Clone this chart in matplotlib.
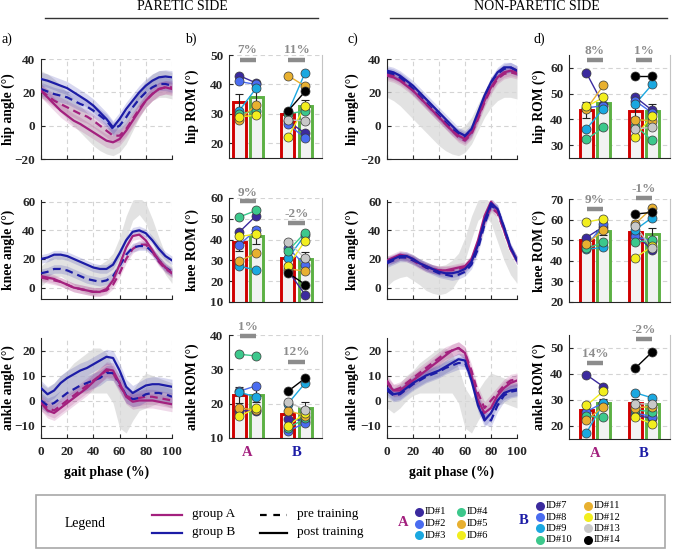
import numpy as np
import matplotlib
matplotlib.use('Agg')
import matplotlib.pyplot as plt
from matplotlib.patches import Rectangle

plt.rcParams['font.family'] = ['Liberation Serif', 'DejaVu Serif']

# ---------------- DATA ----------------
phase = [0, 5, 10, 15, 20, 25, 30, 35, 40, 45, 50, 55, 60, 65, 70, 75, 80, 85, 90, 95, 100]

# normative reference (gray band)
hip_norm_mean = [25, 23, 20, 16, 12, 8, 4, 0, -4, -7, -9, -10, -8, -3, 5, 13, 19, 23, 25, 25, 24]
hip_norm_sd = [8, 8, 8, 8, 8, 8, 8, 8, 8, 8, 8, 8, 8, 8, 8, 8, 8, 8, 8, 8, 8]
knee_norm_mean = [8, 12, 15, 16, 14, 11, 8, 6, 5, 6, 9, 15, 27, 42, 54, 57, 52, 40, 27, 16, 9]
knee_norm_sd = [7, 7, 8, 8, 9, 9, 10, 10, 10, 10, 10, 9, 8, 8, 7, 6, 7, 8, 8, 7, 6]
ank_norm_mean = [2, 0, 2, 5, 7, 9, 10, 11, 12, 12, 11, 6, -3, -6, -2, 2, 4, 4, 4, 3, 2]
ank_norm_sd = [5, 5, 5, 5, 5, 6, 7, 8, 9, 9, 8, 7, 8, 7, 6, 6, 7, 6, 5, 5, 5]

# paretic side joint angles
hipP_A_pre = [21, 18, 15, 13, 11, 9, 7, 5.5, 3, 0, -3, -6, -6, -2, 4, 10, 15, 19, 22, 23, 23]
hipP_A_post = [21, 17, 13, 9, 6, 3, 1, -1.5, -4, -6.5, -9, -10, -8, -3, 3, 9, 15, 19, 22, 23, 22]
hipP_B_pre = [22, 20.5, 19, 18, 17, 15, 13, 11.5, 9, 6, 3, -2, 0, 5, 11, 16, 20, 23, 25, 25, 24]
hipP_B_post = [28, 27, 25.5, 24, 22.5, 20, 17.5, 15, 12, 8, 4, -1, 4, 10, 15, 20, 24, 27, 29, 29.5, 29]
kneeP_A_pre = [7, 6, 5, 4, 2, 0, -1, -2, -3, -3, -2, 2, 10, 20, 27, 30, 30, 25, 18, 13, 10]
kneeP_A_post = [8, 7, 6, 4, 2, 0, -1, -2, -3, -3, -1, 5, 16, 28, 36, 37, 33, 26, 19, 14, 10]
kneeP_B_pre = [10, 11, 13, 13, 12, 10, 8, 6, 5, 4, 5, 8, 15, 23, 28, 29, 29, 25, 19, 14, 11]
kneeP_B_post = [20, 21, 23, 23, 22, 20, 18, 16, 14, 13, 13, 16, 24, 33, 39, 40, 38, 33, 27, 22, 19]
ankP_A_pre = [-1, -3, -4, -2, 0, 2, 4, 6, 8, 10, 12, 11, 6, 2, 0.5, 1, 1.5, 1.5, 1, 0.5, 0]
ankP_A_post = [-1, -4, -5, -3, -1, 1, 3, 5, 7.5, 10, 12.5, 12, 7, 1.5, -0.5, 0, 0, 0, -0.5, -1, -1.5]
ankP_B_pre = [0, -2, -1, 1, 3, 4.5, 6, 7, 8, 9, 11, 11, 7, 2, 0.5, 1, 2.5, 3, 3, 2.5, 1.5]
ankP_B_post = [5, 2.5, 4, 7, 9, 10.5, 12, 13, 14.5, 16, 17.5, 17, 12, 5.5, 3, 4.5, 6, 6.5, 6.5, 6, 5.5]

# non-paretic side joint angles
hipN_A_pre = [31, 30, 28, 25, 21, 17, 13, 9, 5, 1, -3, -7, -9, -5, 4, 14, 22, 28, 31, 32, 31]
hipN_A_post = [30, 29, 27, 24, 21, 17, 13, 9, 5, 1, -3, -6, -8, -4, 5, 15, 23, 29, 32, 33, 32]
hipN_B_pre = [32, 31, 29, 26, 22, 18, 14, 10, 6, 2, -2, -5, -7, -3, 6, 17, 26, 31, 34, 35, 33]
hipN_B_post = [33, 32, 30, 27, 24, 20, 16, 12, 8, 4, 0, -4, -6, -2, 8, 18, 26, 32, 35, 35, 33]
kneeN_A_pre = [19, 20, 22, 21, 19, 16, 14, 13, 12, 12, 12, 13, 14, 19, 30, 46, 56, 52, 40, 27, 19]
kneeN_A_post = [19, 21, 23, 22, 20, 17, 15, 13, 12, 12, 13, 14, 15, 20, 33, 50, 60, 54, 40, 27, 19]
kneeN_B_pre = [17, 19, 21, 21, 19, 17, 14, 12, 10, 9, 8, 9, 11, 16, 27, 44, 57, 55, 42, 28, 19]
kneeN_B_post = [18, 20, 22, 22, 20, 17, 15, 13, 11, 10, 10, 11, 13, 18, 30, 47, 59, 55, 42, 28, 19]
ankN_A_pre = [8, 4, 5, 7, 9, 11, 13, 15, 17, 19, 20, 21, 19, 12, 3, -3, 0, 3, 6, 8, 8.5]
ankN_A_post = [7, 4, 4, 6, 8, 10, 12, 14, 16, 18, 20, 21, 19, 10, 0, -5, -3, 2, 5, 7, 8]
ankN_B_pre = [4, 2, 2.5, 4.5, 6.5, 8, 9.5, 10.5, 11.5, 13, 14, 15, 15, 9, 0, -7, -8, -2, 2, 3.5, 4]
ankN_B_post = [5, 2.5, 3, 5, 7, 8.5, 10, 11, 12, 13.5, 15, 16.5, 16, 8, -2, -8, -5, 0, 3, 4, 4.5]

band_P = [4, 3, 3]      # hip, knee, ankle half-width of group bands
band_N = [3, 3, 2.5]

# individual ROM values, ID#1..ID#14 (1-6 group A, 7-14 group B)
ids = ['ID#1', 'ID#2', 'ID#3', 'ID#4', 'ID#5', 'ID#6', 'ID#7', 'ID#8', 'ID#9', 'ID#10',
       'ID#11', 'ID#12', 'ID#13', 'ID#14']
romP_hip_pre = [43, 41, 31, 30, 28, 29, 27.5, 26.5, 30.5, 30, 43, 22, 28, 31]
romP_hip_post = [40.5, 40, 38.7, 31, 33, 29.5, 23.4, 21.8, 44, 31, 39.4, 32.6, 27.6, 37.6]
romP_knee_pre = [43.5, 37.4, 27.3, 50.8, 29.7, 41.5, 25, 36, 31, 34.5, 26, 27.3, 39, 24]
romP_knee_post = [51.5, 44.7, 25.3, 54, 33.4, 42.6, 13.5, 27.7, 42.3, 43.4, 24.8, 39.4, 31, 18.4]
romP_ank_pre = [18, 23.6, 23.4, 34.4, 18.7, 16.3, 15.6, 12, 20, 12.9, 18, 13.6, 20.4, 23.6]
romP_ank_post = [17.8, 25.2, 21.9, 33.9, 18.2, 18.7, 15, 14.4, 26, 15.7, 16.5, 17.3, 18.3, 27.4]
romN_hip_pre = [58, 44.5, 36.3, 32.2, 44, 45, 48.7, 47.2, 45.9, 37.5, 39.9, 33.3, 36.3, 56.8]
romN_hip_post = [45.5, 45.3, 44.2, 36.9, 53.2, 48.5, 43.5, 42.5, 53.6, 31.8, 39.5, 41.4, 36.9, 56.8]
romN_knee_pre = [51.3, 47, 45.6, 46, 48, 58.8, 53, 52, 55, 49, 58, 41.5, 57, 62.7]
romN_knee_post = [56.6, 57.8, 46.5, 49, 55, 60.4, 45.2, 49.5, 61, 50.1, 65.6, 47, 46, 63.5]
romN_ank_pre = [39.7, 25.5, 17.4, 23.8, 22.2, 27.9, 24.2, 25, 32.8, 26.2, 27, 23.3, 28.6, 42.2]
romN_ank_post = [35.1, 29, 28.8, 23.3, 27.5, 33.4, 22.9, 23.6, 30.8, 25.5, 27.5, 20.9, 28.4, 48.5]

# bar means and standard errors: [A pre, A post, B pre, B post]
barP_hip = [33.9, 35.6, 30.0, 32.6]
seP_hip = [2.8, 2.5, 1.5, 2.2]
barP_knee = [38.7, 41.9, 31.0, 30.5]
seP_knee = [4.0, 4.0, 2.5, 3.4]
barP_ank = [22.6, 22.6, 17.0, 18.8]
seP_ank = [2.4, 2.0, 1.2, 1.6]
barN_hip = [43.6, 46.2, 43.3, 43.3]
seN_hip = [3.0, 2.0, 2.5, 2.6]
barN_knee = [50.0, 54.5, 53.9, 53.1]
seN_knee = [1.5, 2.0, 2.0, 3.0]
barN_ank = [26.3, 28.9, 28.8, 28.4]
seN_ank = [2.0, 1.5, 1.5, 1.5]

# percent change labels [A, B]
pctP_hip = ['7%', '11%']
pctP_knee = ['9%', '-2%']
pctP_ank = ['1%', '12%']
pctN_hip = ['8%', '1%']
pctN_knee = ['9%', '-1%']
pctN_ank = ['14%', '-2%']

# ---------------- STYLE ----------------
COL_A = '#a3207e'
COL_B = '#1c1ca6'
id_colors = ['#3b2a9e', '#4a6cf0', '#1ba8e0', '#3cc88c', '#e8b030', '#f2ee1e',
             '#3b2a9e', '#4a6cf0', '#1ba8e0', '#3cc88c', '#e8b030', '#f2ee1e',
             '#c8c8c8', '#000000']
PRE_EDGE = '#d00000'
POST_EDGE = '#5cb043'
PCT_COL = '#8c8c8c'
DARK = '#262626'

W, H = 685, 551
fig = plt.figure(figsize=(W / 100, H / 100), dpi=100)


def ax_px(l, t, r, b):
    return fig.add_axes([l / W, 1 - b / H, (r - l) / W, (b - t) / H])


def style(ax, xgrid=True, right=False):
    ax.spines['top'].set_visible(False)
    ax.spines['right'].set_visible(right)
    if right:
        ax.spines['right'].set_color('#c4c4c4')
        ax.spines['right'].set_linewidth(0.8)
    for s in ['left', 'bottom']:
        ax.spines[s].set_color(DARK)
        ax.spines[s].set_linewidth(0.8)
    ax.tick_params(direction='in', length=3, width=0.8, colors=DARK, labelsize=9.5)
    ax.tick_params(axis='y', pad=4)
    ax.tick_params(axis='x', pad=6)
    ax.grid(True, axis='both' if xgrid else 'y', color='#d4d4d4',
            linestyle=(0, (4, 3)), linewidth=0.8)
    ax.set_axisbelow(True)


def line_panel(ax, nm, ns, curves, band, ylim, yticks, ylabel, lab_x, show_x):
    ph = np.array(phase)
    nm = np.array(nm)
    ns = np.array(ns)
    ax.fill_between(ph, nm - ns, nm + ns, color='#d9d9d9', alpha=0.75, lw=0, zorder=1)
    cols = [COL_A, COL_A, COL_B, COL_B]
    for c, col in zip(curves, cols):
        c = np.array(c)
        ax.fill_between(ph, c - band, c + band, color=col, alpha=0.17, lw=0, zorder=2)
    for i, (c, col) in enumerate(zip(curves, cols)):
        if i % 2 == 0:
            ax.plot(ph, c, color=col, lw=1.6, linestyle=(0, (3.5, 2.2)), zorder=3)
        else:
            ax.plot(ph, c, color=col, lw=1.6, zorder=4)
    ax.set_xlim(0, 100)
    ax.set_ylim(*ylim)
    ax.set_xticks([0, 20, 40, 60, 80, 100])
    ax.set_yticks(yticks)
    style(ax)
    if not show_x:
        ax.set_xticklabels([])
    else:
        ax.set_xlabel('gait phase (%)', fontsize=9.8, fontweight='bold', labelpad=5)
    ax.set_ylabel(ylabel, fontsize=9.8, fontweight='bold')
    ax.yaxis.set_label_coords(lab_x, 0.5)
    plt.setp(ax.get_xticklabels() + ax.get_yticklabels(), fontweight='bold')


def bar_panel(ax, means, ses, pre, post, pct, pct_txt_y, pct_line_y, ylim, yticks,
              ylabel, xlim, lab_x, show_x):
    d = 0.175
    xs = [1 - d, 1 + d, 2 - d, 2 + d]
    ax.bar(xs, means, width=0.265, color='#f2f2f2',
           edgecolor=[PRE_EDGE, POST_EDGE, PRE_EDGE, POST_EDGE], linewidth=2.1, zorder=2)
    ax.errorbar(xs, means, yerr=ses, fmt='none', ecolor='#222222', elinewidth=0.8,
                capsize=3, capthick=0.8, zorder=3)
    for i in range(14):
        if i < 6:
            x0, x1 = xs[0], xs[1]
        else:
            x0, x1 = xs[2], xs[3]
        ax.plot([x0, x1], [pre[i], post[i]], color=id_colors[i], lw=1.0, zorder=4)
    for i in range(14):
        if i < 6:
            x0, x1 = xs[0], xs[1]
        else:
            x0, x1 = xs[2], xs[3]
        ax.plot([x0, x1], [pre[i], post[i]], linestyle='none', marker='o', ms=6.5,
                mfc=id_colors[i], mec='#3a3a3a', mew=0.5, zorder=5 + i * 0.01)
    for g in range(2):
        c = 1 + g
        ax.plot([c - 0.165, c + 0.165], [pct_line_y[g], pct_line_y[g]], color=PCT_COL,
                lw=3.2, solid_capstyle='butt', clip_on=False, zorder=6)
        ax.text(c, pct_txt_y[g], pct[g], color=PCT_COL, fontsize=9.5, fontweight='bold',
                ha='center', va='center', clip_on=False)
    ax.set_xlim(*xlim)
    ax.set_ylim(*ylim)
    ax.set_yticks(yticks)
    ax.set_xticks([1, 2])
    style(ax, xgrid=False, right=True)
    ax.tick_params(axis='x', length=0)
    if show_x:
        ax.set_xticklabels(['A', 'B'], fontsize=10.5)
        ax.get_xticklabels()[0].set_color(COL_A)
        ax.get_xticklabels()[1].set_color(COL_B)
    else:
        ax.set_xticklabels([])
    ax.set_ylabel(ylabel, fontsize=9.8, fontweight='bold')
    ax.yaxis.set_label_coords(lab_x, 0.5)
    plt.setp(ax.get_xticklabels() + ax.get_yticklabels(), fontweight='bold')


rows_line = [(59, 159), (200, 299), (338, 438)]
hip_ylim, knee_ylim, ank_ylim = (-20, 40), (-8, 61.2), (-15, 25)

norms = [(hip_norm_mean, hip_norm_sd), (knee_norm_mean, knee_norm_sd), (ank_norm_mean, ank_norm_sd)]
curvesP = [[hipP_A_pre, hipP_A_post, hipP_B_pre, hipP_B_post],
           [kneeP_A_pre, kneeP_A_post, kneeP_B_pre, kneeP_B_post],
           [ankP_A_pre, ankP_A_post, ankP_B_pre, ankP_B_post]]
curvesN = [[hipN_A_pre, hipN_A_post, hipN_B_pre, hipN_B_post],
           [kneeN_A_pre, kneeN_A_post, kneeN_B_pre, kneeN_B_post],
           [ankN_A_pre, ankN_A_post, ankN_B_pre, ankN_B_post]]
ylims = [hip_ylim, knee_ylim, ank_ylim]
yticks_line = [[-20, 0, 20, 40], [0, 20, 40, 60], [-10, 0, 10, 20]]
ylabels_line = ['hip angle (°)', 'knee angle (°)', 'ankle angle (°)']

for r in range(3):
    t, b = rows_line[r]
    ax = ax_px(41, t, 172, b)
    line_panel(ax, norms[r][0], norms[r][1], curvesP[r], band_P[r], ylims[r], yticks_line[r],
               ylabels_line[r], (15 - 41) / 131, r == 2)
    ax = ax_px(387, t, 517, b)
    line_panel(ax, norms[r][0], norms[r][1], curvesN[r], band_N[r], ylims[r], yticks_line[r],
               ylabels_line[r], (359 - 387) / 130, r == 2)

# ---------- bar panels ----------
rows_b = [(55, 158), (198, 302), (335, 438)]
rows_d = [(55, 158), (199, 302), (335, 439)]
ylabels_bar = ['hip ROM (°)', 'knee ROM (°)', 'ankle ROM (°)']

bP = [(barP_hip, seP_hip, romP_hip_pre, romP_hip_post, pctP_hip, [51.7, 51.7], [48.3, 48.3],
       (15, 50), [20, 30, 40, 50]),
      (barP_knee, seP_knee, romP_knee_pre, romP_knee_post, pctP_knee, [62.6, 52.3], [58.6, 48.1],
       (10, 60), [10, 20, 30, 40, 50, 60]),
      (barP_ank, seP_ank, romP_ank_pre, romP_ank_post, pctP_ank, [42.2, 35.1], [39.6, 32.2],
       (10, 40), [10, 20, 30, 40])]
bN = [(barN_hip, seN_hip, romN_hip_pre, romN_hip_post, pctN_hip, [66.4, 66.4], [63.1, 63.1],
       (25, 65), [30, 40, 50, 60]),
      (barN_knee, seN_knee, romN_knee_pre, romN_knee_post, pctN_knee, [69.4, 74.9], [65.2, 70.5],
       (20, 70), [20, 30, 40, 50, 60, 70]),
      (barN_ank, seN_ank, romN_ank_pre, romN_ank_post, pctN_ank, [47.6, 57.0], [44.2, 53.6],
       (15, 55), [20, 30, 40, 50])]

for r in range(3):
    t, b = rows_b[r]
    ax = ax_px(229, t, 322, b)
    m, s, pre, post, pct, ty, ly, yl, yt = bP[r]
    bar_panel(ax, m, s, pre, post, pct, ty, ly, yl, yt, ylabels_bar[r], (0.62, 2.52),
              (199 - 229) / 93, r == 2)
    t, b = rows_d[r]
    ax = ax_px(569, t, 670, b)
    m, s, pre, post, pct, ty, ly, yl, yt = bN[r]
    bar_panel(ax, m, s, pre, post, pct, ty, ly, yl, yt, ylabels_bar[r], (0.467, 2.54),
              (546 - 569) / 101, r == 2)

# ---------- titles and panel letters ----------
fig.text(182 / W, 1 - 7 / H, 'PARETIC SIDE', ha='center', va='center', fontsize=10)
fig.text(537 / W, 1 - 7 / H, 'NON-PARETIC SIDE', ha='center', va='center', fontsize=10)
fig.add_artist(plt.Line2D([45 / W, 318 / W], [1 - 18 / H, 1 - 18 / H], color='#333333', lw=1))
fig.add_artist(plt.Line2D([390 / W, 667 / W], [1 - 18 / H, 1 - 18 / H], color='#333333', lw=1))
for lab, x in [('a)', 2), ('b)', 185), ('c)', 347), ('d)', 534)]:
    fig.text(x / W, 1 - 39 / H, lab, ha='left', va='center', fontsize=10)

# ---------- legend box ----------
lg = fig.add_axes([0, 0, 1, 1], facecolor='none')
lg.set_xlim(0, W)
lg.set_ylim(H, 0)
lg.axis('off')
lg.add_patch(Rectangle((36.5, 495), 628.5, 53, fill=False, edgecolor='#a8a8a8', lw=1.2))
lg.text(65, 523, 'Legend', fontsize=9.8, ha='left', va='center')
lg.plot([152, 182], [515, 515], color=COL_A, lw=1.6)
lg.plot([152, 182], [533, 533], color=COL_B, lw=1.6)
lg.text(192, 514, 'group A', fontsize=9.5, ha='left', va='center')
lg.text(192, 532, 'group B', fontsize=9.5, ha='left', va='center')
lg.plot([260, 287], [515, 515], color='black', lw=1.6, linestyle=(0, (3, 3)))
lg.plot([260, 287], [533, 533], color='black', lw=1.6)
lg.text(297, 514, 'pre training', fontsize=9.5, ha='left', va='center')
lg.text(297, 532, 'post training', fontsize=9.5, ha='left', va='center')
lg.text(403, 523, 'A', fontsize=10.5, fontweight='bold', color=COL_A, ha='center', va='center')
lg.text(524, 520, 'B', fontsize=10.5, fontweight='bold', color=COL_B, ha='center', va='center')
legend_slots = [(419, 512), (419, 523.5), (419, 535), (461, 512), (461, 523.5), (461, 535),
                (540, 505.5), (540, 517), (540, 528.3), (540, 539.6),
                (588, 505.5), (588, 517), (588, 528.3), (588, 539.6)]
for i, (x, y) in enumerate(legend_slots):
    lg.plot([x], [y], marker='o', ms=6.5, mfc=id_colors[i], mec='none', linestyle='none')
    lg.text(x + 6, y, ids[i], fontsize=7.6, ha='left', va='center')

fig.savefig('out.png', dpi=100)
